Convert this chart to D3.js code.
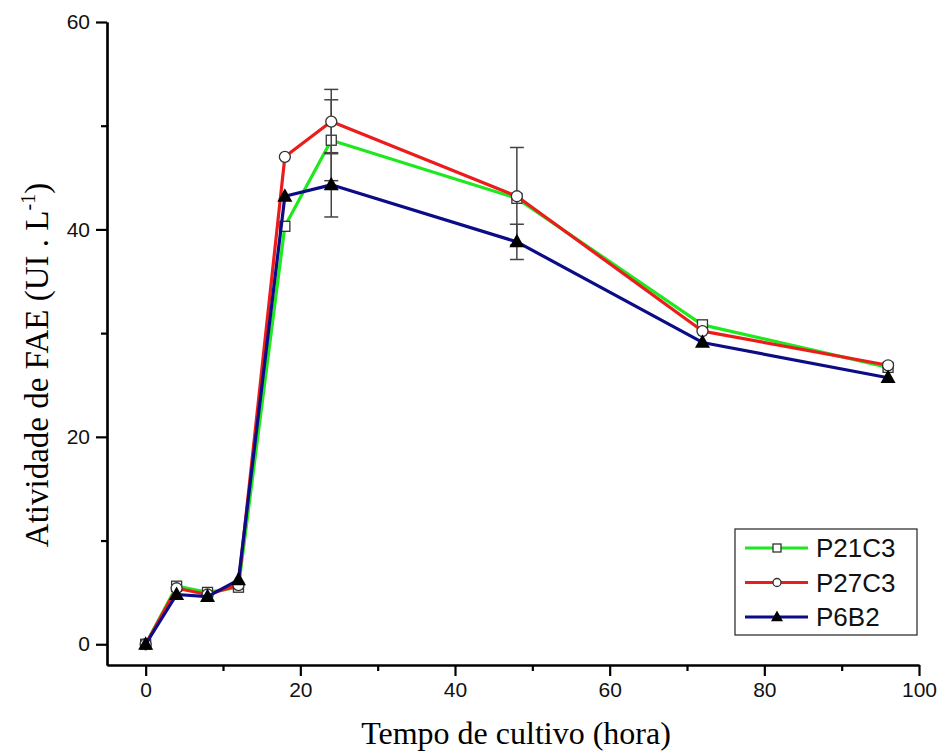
<!DOCTYPE html>
<html>
<head>
<meta charset="utf-8">
<script src="https://cdn.jsdelivr.net/npm/d3@7"></script>
<style>
  body { margin: 0; background: #fff; }
  svg { display: block; }
</style>
</head>
<body>
<div id="chart"></div>
<script>
// cultivation time (h)
const hours = [0, 4, 8, 12, 18, 24, 48, 72, 96];

// FAE activity per strain (UI/L)
const p21c3 = [0, 5.6, 5.0, 5.5, 40.3, 48.6, 43.0, 30.8, 26.7];
const p27c3 = [0, 5.4, 4.8, 5.7, 47.0, 50.4, 43.2, 30.2, 26.9];
const p6b2 = [0, 4.8, 4.6, 6.2, 43.2, 44.3, 38.8, 29.1, 25.7];

// standard deviations (only shown where measured)
const p21c3Err = [0, 0, 0, 0, 0, 3.9, 0, 0, 0];
const p27c3Err = [0, 0, 0, 0, 0, 3.1, 4.7, 0, 0];
const p6b2Err = [0, 0, 0, 0, 0, 3.1, 1.7, 0, 0];

const seriesNames = ["P21C3", "P27C3", "P6B2"];
const xTicks = [0, 20, 40, 60, 80, 100];
const yTicks = [0, 20, 40, 60];

const width = 941, height = 751;

const svg = d3.select("#chart").append("svg")
    .attr("width", width)
    .attr("height", height);

const x = d3.scaleLinear().domain([-5, 100]).range([107, 919]);
const y = d3.scaleLinear().domain([-2, 60]).range([665, 22]);

const series = [
    { name: seriesNames[0], values: p21c3, err: p21c3Err, color: "#1ee81e", marker: "square" },
    { name: seriesNames[1], values: p27c3, err: p27c3Err, color: "#ec1c1c", marker: "circle" },
    { name: seriesNames[2], values: p6b2, err: p6b2Err, color: "#0c0c86", marker: "triangle" }
];

// axes: major ticks labelled, minor ticks in between
const xMinor = d3.range(10, 100, 20);
const yMinor = d3.range(10, 60, 20);

const xAxis = svg.append("g")
    .attr("transform", `translate(0,${y.range()[0]})`);
xAxis.call(d3.axisBottom(x).tickValues(xTicks).tickSize(11).tickSizeOuter(0).tickPadding(6));
xAxis.append("g").call(d3.axisBottom(x).tickValues(xMinor).tickSize(6).tickSizeOuter(0).tickFormat(""));

const yAxis = svg.append("g")
    .attr("transform", `translate(${x.range()[0]},0)`);
yAxis.call(d3.axisLeft(y).tickValues(yTicks).tickSize(11).tickSizeOuter(0).tickPadding(6));
yAxis.append("g").call(d3.axisLeft(y).tickValues(yMinor).tickSize(6).tickSizeOuter(0).tickFormat(""));

svg.selectAll(".domain").attr("stroke", "#000").attr("stroke-width", 2.2);
svg.selectAll(".tick line").attr("stroke", "#000").attr("stroke-width", 2.2);
svg.selectAll(".tick text")
    .attr("font-family", "'Liberation Sans', Arial, sans-serif")
    .attr("font-size", 21)
    .attr("fill", "#111");

// axis titles
svg.append("text")
    .attr("x", 516)
    .attr("y", 744)
    .attr("text-anchor", "middle")
    .attr("font-family", "'Liberation Serif', 'Times New Roman', serif")
    .attr("font-size", 32)
    .text("Tempo de cultivo (hora)");

const yTitle = svg.append("text")
    .attr("transform", "translate(48,365) rotate(-90)")
    .attr("text-anchor", "middle")
    .attr("font-family", "'Liberation Serif', 'Times New Roman', serif")
    .attr("font-size", 33);
yTitle.append("tspan").text("Atividade de FAE (UI . L");
yTitle.append("tspan").attr("font-size", 20).attr("dy", -13).text("-1");
yTitle.append("tspan").attr("dy", 13).text(")");

// marker shapes
function drawMarker(g, type, cx, cy, s) {
    if (type === "square") {
        g.append("rect")
            .attr("x", cx - s / 2).attr("y", cy - s / 2)
            .attr("width", s).attr("height", s)
            .attr("fill", "#fff").attr("stroke", "#333").attr("stroke-width", 1.3);
    } else if (type === "circle") {
        g.append("circle")
            .attr("cx", cx).attr("cy", cy).attr("r", s / 2)
            .attr("fill", "#fff").attr("stroke", "#333").attr("stroke-width", 1.3);
    } else {
        const h = s * 0.9;
        g.append("path")
            .attr("d", `M${cx},${cy - h * 0.6}L${cx + s / 2},${cy + h * 0.4}L${cx - s / 2},${cy + h * 0.4}Z`)
            .attr("fill", "#000");
    }
}

const markerSize = { square: 10, circle: 11, triangle: 15 };

const line = d3.line()
    .x((d, i) => x(hours[i]))
    .y(d => y(d));

series.forEach(s => {
    const g = svg.append("g").attr("class", "series");

    // error bars
    s.err.forEach((e, i) => {
        if (!e) return;
        const cx = x(hours[i]);
        const top = y(s.values[i] + e), bot = y(s.values[i] - e);
        g.append("line")
            .attr("x1", cx).attr("x2", cx).attr("y1", top).attr("y2", bot)
            .attr("stroke", "#444").attr("stroke-width", 1.5);
        [top, bot].forEach(yy => {
            g.append("line")
                .attr("x1", cx - 7).attr("x2", cx + 7).attr("y1", yy).attr("y2", yy)
                .attr("stroke", "#444").attr("stroke-width", 1.5);
        });
    });

    g.append("path")
        .datum(s.values)
        .attr("d", line)
        .attr("fill", "none")
        .attr("stroke", s.color)
        .attr("stroke-width", 3.2)
        .attr("stroke-linejoin", "round");

    s.values.forEach((v, i) => drawMarker(g, s.marker, x(hours[i]), y(v), markerSize[s.marker]));
});

// legend
const legend = svg.append("g").attr("transform", "translate(735,529)");
legend.append("rect")
    .attr("width", 182).attr("height", 106)
    .attr("fill", "#fff").attr("stroke", "#333").attr("stroke-width", 1.3);

const legendMarker = { square: 8, circle: 8, triangle: 12 };
series.forEach((s, i) => {
    const ly = 19 + i * 34.5;
    legend.append("line")
        .attr("x1", 10).attr("x2", 73).attr("y1", ly).attr("y2", ly)
        .attr("stroke", s.color).attr("stroke-width", 3.2);
    drawMarker(legend, s.marker, 42, ly, legendMarker[s.marker]);
    legend.append("text")
        .attr("x", 81).attr("y", ly + 9)
        .attr("font-family", "'Liberation Sans', Arial, sans-serif")
        .attr("font-size", 26)
        .attr("fill", "#111")
        .text(s.name);
});
</script>
</body>
</html>
